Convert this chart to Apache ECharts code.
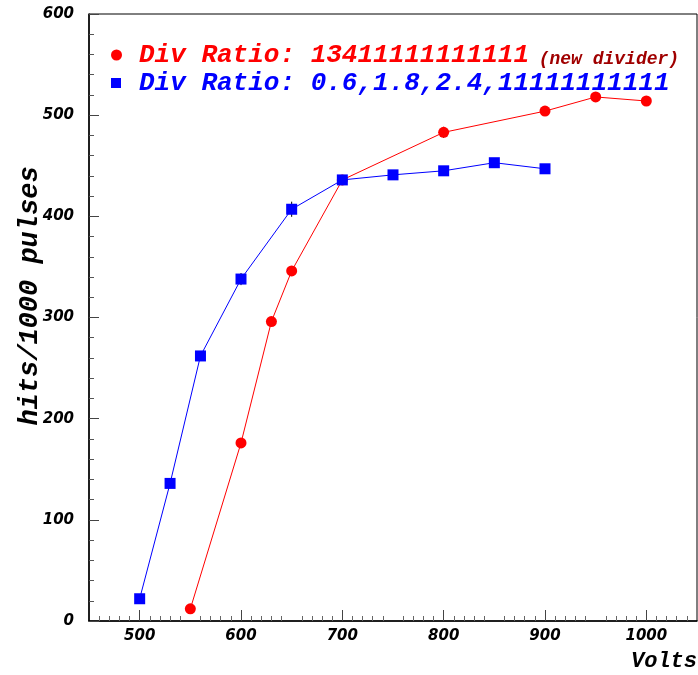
<!DOCTYPE html>
<html>
<head>
<meta charset="utf-8">
<script src="https://cdn.jsdelivr.net/npm/echarts@6/dist/echarts.min.js"></script>
<style>
html,body{margin:0;padding:0;background:#fff;}
#chart{width:698px;height:675px;}
</style>
</head>
<body>
<div id="chart"></div>
<script>
// Data
const redVolts = [550, 600, 630, 650, 700, 800, 900, 950, 1000];
const redHits  = [12, 176, 296, 346, 436, 483, 504, 518, 514];
const redErr   = [0, 0, 0, 0, 0, 5.5, 0, 0, 0];

const blueVolts = [500, 530, 560, 600, 650, 700, 750, 800, 850, 900];
const blueHits  = [22, 136, 262, 338, 407, 436, 441, 445, 453, 447];
const blueErr   = [0, 0, 0, 6, 7.5, 0, 0, 0, 0, 0];

const xTicks = [500, 600, 700, 800, 900, 1000];
const yTicks = [0, 100, 200, 300, 400, 500, 600];

const redName = 'Div Ratio: 13411111111111';
const redNote = '(new divider)';
const blueName = 'Div Ratio: 0.6,1.8,2.4,11111111111';

const pairs = (xs, ys) => xs.map((x, i) => [x, ys[i]]);
const errData = (xs, ys, es) => xs.map((x, i) => [x, ys[i], es[i]]).filter(d => d[2] > 0);

const mono = '"Liberation Mono", "DejaVu Sans Mono", monospace';
const sans = '"DejaVu Sans", sans-serif';

function errRender(params, api) {
  const x = api.value(0), y = api.value(1), e = api.value(2);
  const p1 = api.coord([x, y - e]);
  const p2 = api.coord([x, y + e]);
  return {
    type: 'line',
    shape: { x1: p1[0], y1: p1[1], x2: p2[0], y2: p2[1] },
    style: { stroke: '#000', lineWidth: 1 }
  };
}

const chart = echarts.init(document.getElementById('chart'), null, { renderer: 'canvas' });
chart.setOption({
  animation: false,
  backgroundColor: '#fff',
  grid: {
    left: 89, right: 1, top: 14, bottom: 54,
    show: true, borderColor: '#000', borderWidth: 1, backgroundColor: 'transparent'
  },
  legend: [
    {
      left: 111, top: 42, padding: 0, orient: 'vertical',
      itemWidth: 11, itemHeight: 11,
      data: [{ name: redName, icon: 'circle' }],
      formatter: () => '{a|' + redName + '}{s| }{b|' + redNote + '}',
      textStyle: {
        lineHeight: 26,
        rich: {
          a: { fontFamily: mono, fontSize: 26, fontWeight: 'bold', fontStyle: 'italic', color: '#ff0000', lineHeight: 26, padding: [0, 0, 0, 12] },
          s: { fontFamily: mono, fontSize: 16, lineHeight: 26 },
          b: { fontFamily: mono, fontSize: 18, fontWeight: 'bold', fontStyle: 'italic', color: '#a00000', lineHeight: 26, verticalAlign: 'bottom' }
        }
      }
    },
    {
      left: 111, top: 70, padding: 0, orient: 'vertical',
      itemWidth: 10, itemHeight: 10,
      data: [{ name: blueName, icon: 'rect' }],
      formatter: () => '{a|' + blueName + '}',
      textStyle: {
        lineHeight: 26,
        rich: {
          a: { fontFamily: mono, fontSize: 26, fontWeight: 'bold', fontStyle: 'italic', color: '#0000ff', lineHeight: 26, padding: [0, 0, 0, 13] }
        }
      }
    }
  ],
  xAxis: {
    type: 'value', min: 450, max: 1050, interval: 50,
    axisLine: { show: true, lineStyle: { color: '#000', width: 1.5 } },
    axisTick: {
      show: true, inside: true, length: 11,
      lineStyle: { color: '#444' },
      customValues: xTicks
    },
    minorTick: { show: true, splitNumber: 5, length: 5, lineStyle: { color: '#666' } },
    splitLine: { show: false },
    axisLabel: {
      customValues: xTicks,
      formatter: v => String(v),
      margin: 8,
      fontFamily: sans, fontSize: 15, fontWeight: 'bold', fontStyle: 'italic', color: '#000'
    }
  },
  yAxis: {
    type: 'value', min: 0, max: 600, interval: 100,
    axisLine: { show: true, lineStyle: { color: '#000', width: 1.5 } },
    axisTick: { show: true, inside: true, length: 10, lineStyle: { color: '#444' }, customValues: yTicks },
    minorTick: { show: true, splitNumber: 5, length: 5, lineStyle: { color: '#555' } },
    splitLine: { show: false },
    axisLabel: {
      customValues: yTicks,
      formatter: v => String(v),
      margin: 15,
      fontFamily: sans, fontSize: 15, fontWeight: 'bold', fontStyle: 'italic', color: '#000'
    }
  },
  graphic: [
    {
      type: 'text', x: 30, y: 296, rotation: Math.PI / 2,
      style: {
        text: 'hits/1000 pulses', fontFamily: mono, fontSize: 27, fontWeight: 'bold', fontStyle: 'italic',
        fill: '#000', align: 'center', verticalAlign: 'middle'
      }
    },
    {
      type: 'text', x: 697, y: 661,
      style: {
        text: 'Volts', fontFamily: mono, fontSize: 22, fontWeight: 'bold', fontStyle: 'italic',
        fill: '#000', align: 'right', verticalAlign: 'middle'
      }
    }
  ],
  series: [
    {
      type: 'custom', renderItem: errRender, z: 1, silent: true,
      data: errData(redVolts, redHits, redErr)
    },
    {
      type: 'custom', renderItem: errRender, z: 1, silent: true,
      data: errData(blueVolts, blueHits, blueErr)
    },
    {
      name: redName, type: 'line', z: 2,
      data: pairs(redVolts, redHits),
      symbol: 'circle', symbolSize: 11,
      itemStyle: { color: '#ff0000' },
      lineStyle: { color: '#ff0000', width: 1 }
    },
    {
      name: blueName, type: 'line', z: 3,
      data: pairs(blueVolts, blueHits),
      symbol: 'rect', symbolSize: 11,
      itemStyle: { color: '#0000ff' },
      lineStyle: { color: '#0000ff', width: 1 }
    }
  ]
});
</script>
</body>
</html>
